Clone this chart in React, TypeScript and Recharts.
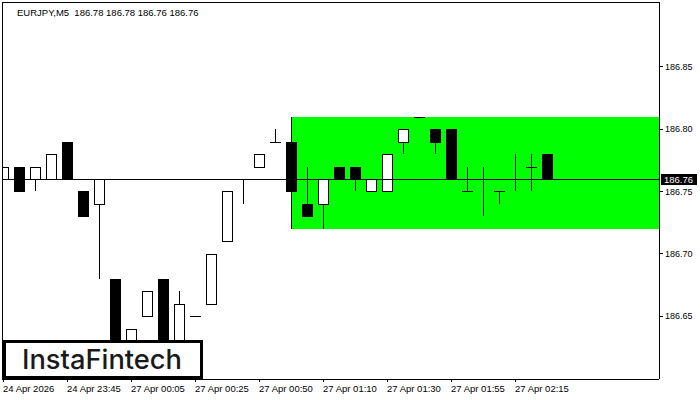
import { ComposedChart, Bar, XAxis, YAxis, ReferenceArea, ReferenceLine } from "recharts";

// EURJPY M5 candles (index 0 is cut by the left edge)
const OPEN = [
  186.76, 186.77, 186.76, 186.76, 186.79, 186.75, 186.74, 186.68, 186.62, 186.65,
  186.68, 186.62, 186.65, 186.66, 186.71, 186.76, 186.77, 186.79, 186.79, 186.74,
  186.74, 186.77, 186.77, 186.75, 186.75, 186.79, 186.81, 186.8, 186.8, 186.75,
  186.76, 186.75, 186.76, 186.77, 186.78,
];
const HIGH = [
  186.77, 186.77, 186.77, 186.78, 186.79, 186.75, 186.76, 186.68, 186.64, 186.67,
  186.68, 186.67, 186.65, 186.7, 186.75, 186.76, 186.78, 186.8, 186.79, 186.77,
  186.76, 186.77, 186.77, 186.76, 186.78, 186.8, 186.81, 186.8, 186.8, 186.77,
  186.77, 186.75, 186.78, 186.78, 186.78,
];
const LOW = [
  186.76, 186.75, 186.75, 186.76, 186.76, 186.73, 186.68, 186.61, 186.61, 186.65,
  186.61, 186.61, 186.65, 186.66, 186.71, 186.74, 186.77, 186.79, 186.75, 186.73,
  186.72, 186.76, 186.75, 186.75, 186.75, 186.78, 186.81, 186.78, 186.76, 186.75,
  186.73, 186.74, 186.75, 186.75, 186.76,
];
const CLOSE = [
  186.77, 186.75, 186.77, 186.78, 186.76, 186.73, 186.76, 186.62, 186.64, 186.67,
  186.62, 186.66, 186.65, 186.7, 186.75, 186.76, 186.78, 186.79, 186.75, 186.73,
  186.76, 186.76, 186.76, 186.76, 186.78, 186.8, 186.81, 186.79, 186.76, 186.75,
  186.76, 186.75, 186.76, 186.77, 186.76,
];

const X_TICKS = [0, 4, 8, 12, 16, 20, 24, 28, 32];
const X_TICK_LABELS = [
  "24 Apr 2026",
  "24 Apr 23:45",
  "27 Apr 00:05",
  "27 Apr 00:25",
  "27 Apr 00:50",
  "27 Apr 01:10",
  "27 Apr 01:30",
  "27 Apr 01:55",
  "27 Apr 02:15",
];
const Y_TICKS = [186.65, 186.7, 186.75, 186.8, 186.85];

const LAST_PRICE = 186.76;
const ZONE_START = 18;
const ZONE_LOW = 186.72;
const ZONE_HIGH = 186.81;

const X_MIN = -0.0625;
const X_MAX = 41;
const Y_MIN = 186.5996;
const Y_MAX = 186.902;

const FONT = "'Liberation Sans', Arial, sans-serif";

const data = OPEN.map((o, i) => ({
  i,
  open: o,
  high: HIGH[i],
  low: LOW[i],
  close: CLOSE[i],
  range: [LOW[i], HIGH[i]],
}));

// one bar per candle, spanning low..high; body placed inside that span
function Candle(props: any) {
  const { x, y, width, height, payload } = props;
  if (x == null || y == null) return null;
  const { open, close, high, low } = payload;
  const span = high - low;
  const py = (p: number) => (span > 0 ? y + ((high - p) / span) * height : y);
  const cx = Math.round(x + width / 2) + 0.5;
  const top = Math.round(py(Math.max(open, close)));
  const bot = Math.round(py(Math.min(open, close)));
  const wTop = Math.round(py(high));
  const wBot = Math.round(py(low));

  return (
    <g>
      {wBot > wTop && <line x1={cx} x2={cx} y1={wTop} y2={wBot} stroke="#000" />}
      {open === close ? (
        <line x1={cx - 5.5} x2={cx + 5.5} y1={top + 0.5} y2={top + 0.5} stroke="#000" />
      ) : close > open ? (
        <rect x={cx - 5} y={top + 0.5} width={10} height={bot - top} fill="#fff" stroke="#000" />
      ) : (
        <rect x={cx - 5.5} y={top} width={11} height={bot - top + 1} fill="#000" />
      )}
    </g>
  );
}

function XTick(props: any) {
  const { x, y, payload } = props;
  const idx = X_TICKS.indexOf(payload.value);
  return (
    <text x={x} y={y + 8} fontSize={9.5} fontFamily={FONT} fill="#000" textAnchor="start">
      {X_TICK_LABELS[idx]}
    </text>
  );
}

function PriceTag(props: any) {
  const vb = props.viewBox || {};
  const right = (vb.x ?? 0) + (vb.width ?? 0);
  const y = vb.y ?? 0;
  return (
    <g>
      <rect x={right + 2} y={Math.round(y) - 5} width={36} height={11} fill="#000" />
      <text x={right + 5} y={Math.round(y) + 4} fontSize={9.5} fontFamily={FONT} fill="#fff">
        {LAST_PRICE.toFixed(2)}
      </text>
    </g>
  );
}

export default function App() {
  return (
    <div style={{ position: "absolute", left: 0, top: 0, width: 700, height: 400, background: "#fff" }}>
      <style>{"svg line, svg rect, svg path { shape-rendering: crispEdges; }"}</style>
      <ComposedChart
        width={700}
        height={400}
        data={data}
        margin={{ top: 2, right: 0, bottom: 0, left: 2 }}
      >
        <XAxis
          dataKey="i"
          type="number"
          domain={[X_MIN, X_MAX]}
          allowDataOverflow
          ticks={X_TICKS}
          interval={0}
          tickSize={3}
          height={21}
          tick={<XTick />}
          axisLine={{ stroke: "#000" }}
          tickLine={{ stroke: "#000" }}
        />
        <YAxis
          orientation="right"
          type="number"
          domain={[Y_MIN, Y_MAX]}
          allowDataOverflow
          ticks={Y_TICKS}
          interval={0}
          width={41}
          tickSize={4}
          tickFormatter={(v: number) => v.toFixed(2)}
          tick={{ fontSize: 9, fill: "#000", fontFamily: FONT }}
          axisLine={{ stroke: "#000" }}
          tickLine={{ stroke: "#000" }}
        />
        <ReferenceArea
          x1={ZONE_START}
          x2={X_MAX}
          y1={ZONE_LOW}
          y2={ZONE_HIGH}
          fill="#00ff00"
          fillOpacity={1}
          stroke="none"
        />
        <ReferenceLine
          segment={[
            { x: ZONE_START, y: ZONE_LOW },
            { x: ZONE_START, y: ZONE_HIGH },
          ]}
          stroke="#000"
        />
        <ReferenceLine x={X_MIN} stroke="#000" />
        <ReferenceLine y={Y_MAX} stroke="#000" />
        <ReferenceLine y={LAST_PRICE} stroke="#000" label={<PriceTag />} />
        <Bar
          dataKey="range"
          barSize={11}
          shape={<Candle />}
          isAnimationActive={false}
        />
      </ComposedChart>

      <svg
        width={700}
        height={400}
        style={{ position: "absolute", left: 0, top: 0, pointerEvents: "none" }}
      >
        <text x={17} y={16} fontSize={9.5} fontFamily={FONT} fill="#000" style={{ whiteSpace: "pre" }}>
          {"EURJPY,M5  186.78 186.78 186.76 186.76"}
        </text>
        <rect x={4} y={341.5} width={197} height={36} fill="#fff" stroke="#000" strokeWidth={3} />
        <text
          x={22}
          y={369}
          fontSize={27}
          fontFamily="Inter, 'Noto Sans', sans-serif"
          fontWeight={500}
          fill="#1a1a1a"
          textLength={160}
          lengthAdjust="spacingAndGlyphs"
        >
          InstaFintech
        </text>
      </svg>
    </div>
  );
}
